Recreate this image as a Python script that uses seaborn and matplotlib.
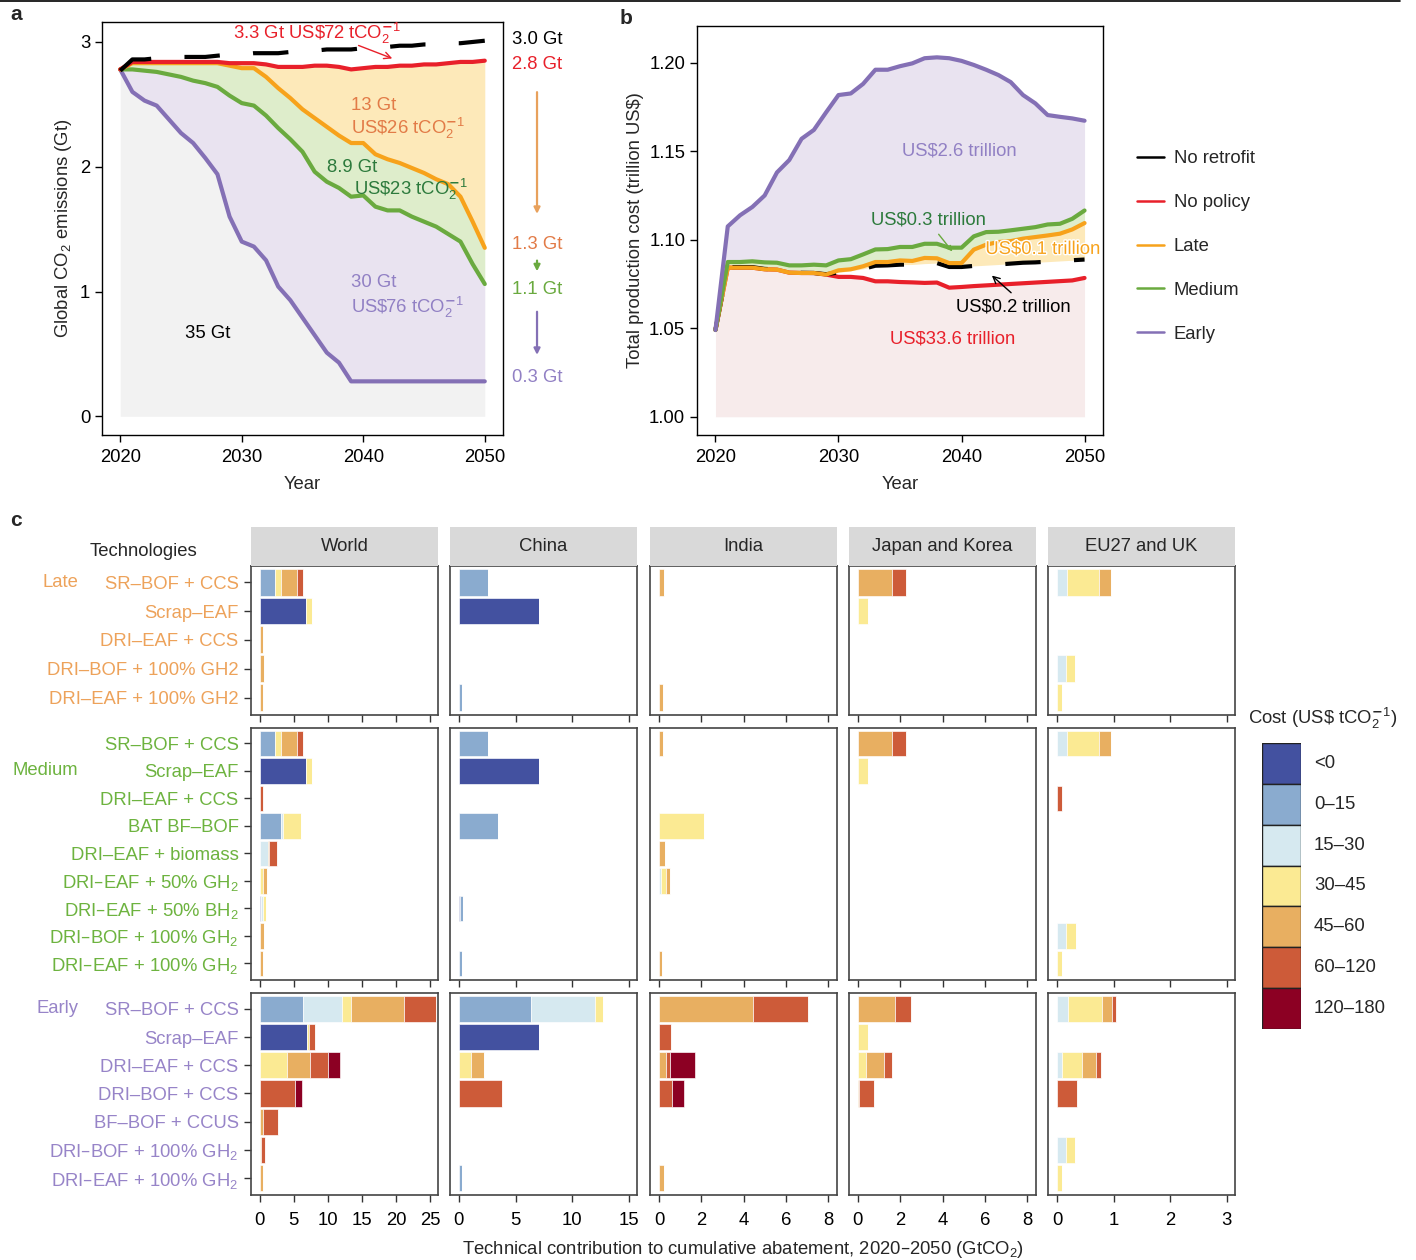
import numpy as np
import pandas as pd
import seaborn as sns
import matplotlib.pyplot as plt
from matplotlib.lines import Line2D
from matplotlib.transforms import blended_transform_factory
import matplotlib.patheffects as pe

sns.set_theme(style='ticks')
plt.rcParams['font.family'] = ['Liberation Sans', 'DejaVu Sans']
plt.rcParams['mathtext.fontset'] = 'dejavusans'
plt.rcParams['mathtext.default'] = 'regular'

# ---------------- datos panel a (emisiones, Gt) ----------------
years = list(range(2020, 2051))
a_no_retrofit = [2.77, 2.86, 2.86, 2.87, 2.87, 2.88, 2.88, 2.88, 2.89, 2.90, 2.90,
                 2.91, 2.91, 2.91, 2.92, 2.92, 2.93, 2.94, 2.94, 2.94, 2.95,
                 2.95, 2.96, 2.97, 2.97, 2.98, 2.98, 2.99, 2.99, 3.00, 3.01]
a_no_policy = [2.78, 2.84, 2.84, 2.84, 2.84, 2.84, 2.84, 2.84, 2.84, 2.83, 2.83,
               2.83, 2.82, 2.80, 2.80, 2.80, 2.81, 2.81, 2.80, 2.78, 2.79,
               2.80, 2.80, 2.81, 2.81, 2.82, 2.82, 2.83, 2.84, 2.84, 2.85]
a_late = [2.78, 2.83, 2.83, 2.83, 2.83, 2.83, 2.83, 2.83, 2.83, 2.81, 2.79,
          2.79, 2.72, 2.63, 2.55, 2.46, 2.39, 2.32, 2.25, 2.19, 2.19,
          2.10, 2.06, 2.03, 1.99, 1.95, 1.90, 1.86, 1.76, 1.56, 1.35]
a_medium = [2.78, 2.78, 2.77, 2.76, 2.74, 2.72, 2.69, 2.67, 2.64, 2.57, 2.51,
            2.49, 2.41, 2.31, 2.22, 2.12, 1.96, 1.88, 1.83, 1.76, 1.77,
            1.68, 1.65, 1.65, 1.60, 1.56, 1.52, 1.46, 1.40, 1.22, 1.06]
a_early = [2.78, 2.60, 2.53, 2.49, 2.38, 2.27, 2.19, 2.07, 1.94, 1.60, 1.40,
           1.36, 1.25, 1.04, 0.93, 0.79, 0.65, 0.51, 0.43, 0.28, 0.28,
           0.28, 0.28, 0.28, 0.28, 0.28, 0.28, 0.28, 0.28, 0.28, 0.28]

# ---------------- datos panel b (coste, billones US$) ----------------
b_no_retrofit = [1.049, 1.0845, 1.0845, 1.0845, 1.0835, 1.0832, 1.0815, 1.0813, 1.0812, 1.0805, 1.0815,
                 1.0825, 1.0835, 1.0853, 1.0855, 1.0859, 1.0860, 1.0865, 1.0868, 1.0846, 1.0846,
                 1.0852, 1.0856, 1.0860, 1.0865, 1.0870, 1.0872, 1.0876, 1.0880, 1.0884, 1.0888]
b_no_policy = [1.049, 1.0842, 1.0842, 1.0842, 1.0833, 1.0831, 1.0814, 1.0812, 1.0812, 1.0803, 1.0790,
               1.0790, 1.0784, 1.0765, 1.0765, 1.0761, 1.0759, 1.0756, 1.0758, 1.0729, 1.0733,
               1.0738, 1.0742, 1.0746, 1.0750, 1.0754, 1.0758, 1.0762, 1.0766, 1.0770, 1.0784]
b_late = [1.049, 1.0842, 1.0842, 1.0842, 1.0833, 1.0831, 1.0814, 1.0812, 1.0812, 1.0803, 1.0827,
          1.0833, 1.0850, 1.0874, 1.0874, 1.0883, 1.0880, 1.0897, 1.0895, 1.0868, 1.0868,
          1.0944, 1.0972, 1.0987, 1.0992, 1.1006, 1.1015, 1.1024, 1.1034, 1.1058, 1.1094]
b_medium = [1.049, 1.0874, 1.0874, 1.0878, 1.0872, 1.0870, 1.0855, 1.0855, 1.0859, 1.0855, 1.0883,
            1.0890, 1.0917, 1.0945, 1.0947, 1.0959, 1.0959, 1.0977, 1.0977, 1.0955, 1.0955,
            1.1019, 1.1043, 1.1045, 1.1053, 1.1062, 1.1071, 1.1086, 1.1090, 1.1118, 1.1165]
b_early = [1.049, 1.1075, 1.1138, 1.1185, 1.1250, 1.1380, 1.1450, 1.1570, 1.1620, 1.1720, 1.1817,
           1.1826, 1.1880, 1.1960, 1.1960, 1.1980, 1.1996, 1.2025, 1.2030, 1.2025, 1.2010,
           1.1987, 1.1960, 1.1930, 1.1890, 1.1817, 1.1770, 1.1704, 1.1694, 1.1685, 1.1672]

# ---------------- datos panel c (contribucion, GtCO2) ----------------
cost_bins = ['<0', '0–15', '15–30', '30–45', '45–60', '60–120', '120–180']
cost_colors = ['#4351A0', '#8AABCF', '#D6E9F0', '#FBEA93', '#E8AF61', '#CD5B39', '#8C0023']
regions = ['World', 'China', 'India', 'Japan and Korea', 'EU27 and UK']
region_xlim = [(-1.27, 26.18), (-0.79, 15.74), (-0.43, 8.43), (-0.42, 8.41), (-0.16, 3.15)]
region_ticks = [[0, 5, 10, 15, 20, 25], [0, 5, 10, 15], [0, 2, 4, 6, 8], [0, 2, 4, 6, 8], [0, 1, 2, 3]]

late_techs = ['SR–BOF + CCS', 'Scrap–EAF', 'DRI–EAF + CCS', 'DRI–BOF + 100% GH2', 'DRI–EAF + 100% GH2']
medium_techs = ['SR–BOF + CCS', 'Scrap–EAF', 'DRI–EAF + CCS', 'BAT BF–BOF', 'DRI–EAF + biomass',
                'DRI–EAF + 50% GH$_2$', 'DRI–EAF + 50% BH$_2$', 'DRI–BOF + 100% GH$_2$',
                'DRI–EAF + 100% GH$_2$']
early_techs = ['SR–BOF + CCS', 'Scrap–EAF', 'DRI–EAF + CCS', 'DRI–BOF + CCS', 'BF–BOF + CCUS',
               'DRI–BOF + 100% GH$_2$', 'DRI–EAF + 100% GH$_2$']

late_bars = [
    ('World', 0, '0–15', 2.3), ('World', 0, '30–45', 0.88), ('World', 0, '45–60', 2.25), ('World', 0, '60–120', 0.98),
    ('World', 1, '<0', 6.8), ('World', 1, '30–45', 0.88),
    ('World', 2, '45–60', 0.5), ('World', 3, '45–60', 0.6), ('World', 4, '45–60', 0.5),
    ('China', 0, '0–15', 2.55), ('China', 1, '<0', 7.1), ('China', 4, '0–15', 0.3),
    ('India', 0, '45–60', 0.22), ('India', 4, '45–60', 0.19),
    ('Japan and Korea', 0, '45–60', 1.62), ('Japan and Korea', 0, '60–120', 0.63), ('Japan and Korea', 1, '30–45', 0.5),
    ('EU27 and UK', 0, '15–30', 0.18), ('EU27 and UK', 0, '30–45', 0.56), ('EU27 and UK', 0, '45–60', 0.22),
    ('EU27 and UK', 3, '15–30', 0.15), ('EU27 and UK', 3, '30–45', 0.17), ('EU27 and UK', 4, '30–45', 0.08),
]
medium_bars = [
    ('World', 0, '0–15', 2.3), ('World', 0, '30–45', 0.88), ('World', 0, '45–60', 2.25), ('World', 0, '60–120', 0.98),
    ('World', 1, '<0', 6.8), ('World', 1, '30–45', 0.88), ('World', 2, '60–120', 0.55),
    ('World', 3, '0–15', 3.2), ('World', 3, '15–30', 0.3), ('World', 3, '30–45', 2.55),
    ('World', 4, '15–30', 1.2), ('World', 4, '45–60', 0.15), ('World', 4, '60–120', 1.2),
    ('World', 5, '30–45', 0.55), ('World', 5, '45–60', 0.5),
    ('World', 6, '<0', 0.25), ('World', 6, '15–30', 0.2), ('World', 6, '30–45', 0.55),
    ('World', 7, '45–60', 0.6), ('World', 8, '45–60', 0.5),
    ('China', 0, '0–15', 2.55), ('China', 1, '<0', 7.1), ('China', 3, '0–15', 3.45),
    ('China', 6, '<0', 0.12), ('China', 6, '0–15', 0.26), ('China', 8, '0–15', 0.3),
    ('India', 0, '45–60', 0.19), ('India', 3, '30–45', 2.14), ('India', 4, '45–60', 0.28),
    ('India', 5, '15–30', 0.1), ('India', 5, '30–45', 0.22), ('India', 5, '45–60', 0.19), ('India', 8, '45–60', 0.16),
    ('Japan and Korea', 0, '45–60', 1.62), ('Japan and Korea', 0, '60–120', 0.63), ('Japan and Korea', 1, '30–45', 0.5),
    ('EU27 and UK', 0, '15–30', 0.18), ('EU27 and UK', 0, '30–45', 0.56), ('EU27 and UK', 0, '45–60', 0.22),
    ('EU27 and UK', 2, '60–120', 0.09), ('EU27 and UK', 7, '15–30', 0.15), ('EU27 and UK', 7, '30–45', 0.18),
    ('EU27 and UK', 8, '30–45', 0.08),
]
early_bars = [
    ('World', 0, '0–15', 6.4), ('World', 0, '15–30', 5.75), ('World', 0, '30–45', 1.27), ('World', 0, '45–60', 7.75),
    ('World', 0, '60–120', 4.7), ('World', 1, '<0', 6.9), ('World', 1, '30–45', 0.3), ('World', 1, '60–120', 0.93),
    ('World', 2, '30–45', 4.0), ('World', 2, '45–60', 3.33), ('World', 2, '60–120', 2.65), ('World', 2, '120–180', 1.76),
    ('World', 3, '60–120', 5.25), ('World', 3, '120–180', 1.0), ('World', 4, '45–60', 0.5), ('World', 4, '60–120', 2.25),
    ('World', 5, '30–45', 0.2), ('World', 5, '60–120', 0.65), ('World', 6, '45–60', 0.5),
    ('China', 0, '0–15', 6.4), ('China', 0, '15–30', 5.6), ('China', 0, '30–45', 0.76), ('China', 1, '<0', 7.1),
    ('China', 2, '30–45', 1.05), ('China', 2, '45–60', 1.15), ('China', 3, '60–120', 3.85), ('China', 6, '0–15', 0.3),
    ('India', 0, '45–60', 4.44), ('India', 0, '60–120', 2.63), ('India', 1, '60–120', 0.57),
    ('India', 2, '45–60', 0.31), ('India', 2, '60–120', 0.2), ('India', 2, '120–180', 1.2),
    ('India', 3, '60–120', 0.63), ('India', 3, '120–180', 0.57), ('India', 6, '45–60', 0.22),
    ('Japan and Korea', 0, '45–60', 1.76), ('Japan and Korea', 0, '60–120', 0.75), ('Japan and Korea', 1, '30–45', 0.5),
    ('Japan and Korea', 2, '30–45', 0.39), ('Japan and Korea', 2, '45–60', 0.82), ('Japan and Korea', 2, '60–120', 0.42),
    ('Japan and Korea', 3, '45–60', 0.06), ('Japan and Korea', 3, '60–120', 0.68),
    ('EU27 and UK', 0, '15–30', 0.19), ('EU27 and UK', 0, '30–45', 0.6), ('EU27 and UK', 0, '45–60', 0.19),
    ('EU27 and UK', 0, '60–120', 0.07), ('EU27 and UK', 2, '15–30', 0.08), ('EU27 and UK', 2, '30–45', 0.36),
    ('EU27 and UK', 2, '45–60', 0.25), ('EU27 and UK', 2, '60–120', 0.08), ('EU27 and UK', 3, '60–120', 0.36),
    ('EU27 and UK', 5, '15–30', 0.15), ('EU27 and UK', 5, '30–45', 0.17), ('EU27 and UK', 6, '30–45', 0.08),
]

# colores
C_RED, C_ORANGE, C_GREEN, C_PURPLE = '#E8202A', '#F7A21B', '#6AAA3F', '#8470B5'
FS = 13.3
W, H = 1416, 1260
INV = r'$_2^{\mathbf{-}1}$'


def fx(px):
    return px / W


def fy(py):
    return 1 - py / H


fig = plt.figure(figsize=(14.16, 12.6), dpi=100)
fig.add_artist(Line2D([0, 1400 / W], [0.9992, 0.9992], color='black', lw=1.2))

# ======================= Panel a =======================
axa = fig.add_axes([fx(102), fy(435), (503 - 102) / W, (435 - 22) / H])
axa.fill_between(years, 0, a_early, color='#F2F2F2', lw=0)
axa.fill_between(years, a_early, a_medium, color='#E9E3F0', lw=0)
axa.fill_between(years, a_medium, a_late, color='#DEEDCB', lw=0)
axa.fill_between(years, a_late, a_no_policy, color='#FDE9B9', lw=0)
for vals, col in [(a_early, C_PURPLE), (a_medium, C_GREEN), (a_late, C_ORANGE), (a_no_policy, C_RED)]:
    sns.lineplot(x=years, y=vals, color=col, lw=3, ax=axa)
sns.lineplot(x=years, y=a_no_retrofit, color='black', lw=3, ax=axa)
axa.lines[-1].set_dashes([8.5, 8])
axa.set_xlim(2018.5, 2051.5)
axa.set_ylim(-0.15, 3.16)
axa.set_xticks([2020, 2030, 2040, 2050])
axa.set_yticks([0, 1, 2, 3])
axa.tick_params(labelsize=FS, length=5, width=1, colors='black')
axa.tick_params(axis='x', pad=5)
axa.set_xlabel('Year', fontsize=FS, labelpad=7)
axa.set_ylabel('Global CO$_2$ emissions (Gt)', fontsize=FS)
for sp in axa.spines.values():
    sp.set_color('black')
    sp.set_linewidth(1)

axa.text(2036.2, 3.07, r'3.3 Gt US\$72 tCO' + INV, color=C_RED, fontsize=FS, ha='center', va='center')
axa.annotate('', xy=(2042.6, 2.86), xytext=(2039.4, 2.98),
             arrowprops=dict(arrowstyle='->', color=C_RED, lw=1))
axa.text(2039.0, 2.49, '13 Gt', color='#E27B47', fontsize=FS, va='center')
axa.text(2039.0, 2.31, r'US\$26 tCO' + INV, color='#E27B47', fontsize=FS, va='center')
axa.text(2037.0, 1.99, '8.9 Gt', color='#2C7A3C', fontsize=FS, va='center')
axa.text(2039.2, 1.82, r'US\$23 tCO' + INV, color='#2C7A3C', fontsize=FS, va='center')
axa.text(2039.0, 1.07, '30 Gt', color='#9180C4', fontsize=FS, va='center')
axa.text(2039.0, 0.87, r'US\$76 tCO' + INV, color='#9180C4', fontsize=FS, va='center')
axa.text(2027.2, 0.66, '35 Gt', color='black', fontsize=FS, ha='center', va='center')

xr = 2054.3
for y, s, c in [(3.02, '3.0 Gt', 'black'), (2.82, '2.8 Gt', C_RED), (1.38, '1.3 Gt', '#E27B47'),
                (1.02, '1.1 Gt', C_GREEN), (0.31, '0.3 Gt', '#9180C4')]:
    axa.text(xr, y, s, color=c, fontsize=FS, ha='center', va='center', clip_on=False)
for y0, y1, c in [(2.62, 1.6, '#E8A15C'), (1.27, 1.14, C_GREEN), (0.86, 0.47, C_PURPLE)]:
    axa.annotate('', xy=(xr, y1), xytext=(xr, y0), annotation_clip=False,
                 arrowprops=dict(arrowstyle='-|>', color=c, lw=1.6, mutation_scale=9))

# ======================= Panel b =======================
axb = fig.add_axes([fx(697), fy(435), 406 / W, (435 - 26) / H])
axb.fill_between(years, 1.0, b_no_policy, color='#F7EBEB', lw=0)
axb.fill_between(years, b_no_retrofit, b_late, color='#FDE9B9', lw=0)
axb.fill_between(years, b_late, b_medium, color='#DEEDCB', lw=0)
axb.fill_between(years, b_medium, b_early, color='#E9E3F0', lw=0)
sns.lineplot(x=years, y=b_no_policy, color=C_RED, lw=3, ax=axb)
sns.lineplot(x=years, y=b_no_retrofit, color='black', lw=3, ax=axb)
axb.lines[-1].set_dashes([8.5, 8])
for vals, col in [(b_late, C_ORANGE), (b_medium, C_GREEN), (b_early, C_PURPLE)]:
    sns.lineplot(x=years, y=vals, color=col, lw=3, ax=axb)
axb.set_xlim(2018.5, 2051.5)
axb.set_ylim(0.9897, 1.2207)
axb.set_xticks([2020, 2030, 2040, 2050])
axb.set_yticks([1.00, 1.05, 1.10, 1.15, 1.20])
axb.set_yticklabels(['1.00', '1.05', '1.10', '1.15', '1.20'])
axb.tick_params(labelsize=FS, length=5, width=1, colors='black')
axb.tick_params(axis='x', pad=5)
axb.set_xlabel('Year', fontsize=FS, labelpad=7)
axb.set_ylabel('Total production cost (trillion US$)', fontsize=FS)
for sp in axb.spines.values():
    sp.set_color('black')
    sp.set_linewidth(1)

axb.text(2039.8, 1.150, 'US$2.6 trillion', color='#9180C4', fontsize=FS, ha='center', va='center')
axb.text(2037.3, 1.111, 'US$0.3 trillion', color='#2C7A3C', fontsize=FS, ha='center', va='center')
axb.annotate('', xy=(2039.4, 1.0921), xytext=(2038.0, 1.1043),
             arrowprops=dict(arrowstyle='-|>', color=C_GREEN, lw=1, mutation_scale=8))
axb.text(2046.6, 1.0945, 'US$0.1 trillion', color=C_ORANGE, fontsize=FS, ha='center', va='center',
         path_effects=[pe.withStroke(linewidth=2, foreground='white')])
axb.text(2044.2, 1.062, 'US$0.2 trillion', color='black', fontsize=FS, ha='center', va='center')
axb.annotate('', xy=(2042.3, 1.0808), xytext=(2044.2, 1.069),
             arrowprops=dict(arrowstyle='->', color='black', lw=1))
axb.text(2039.3, 1.0442, 'US$33.6 trillion', color=C_RED, fontsize=FS, ha='center', va='center')

leg_handles = [Line2D([], [], color=c, lw=1.8) for c in ['black', C_RED, C_ORANGE, C_GREEN, C_PURPLE]]
fig.legend(handles=leg_handles, labels=['No retrofit', 'No policy', 'Late', 'Medium', 'Early'],
           loc='center left', bbox_to_anchor=(fx(1137), fy(246.5)), frameon=False, fontsize=FS,
           handlelength=1.45, handletextpad=0.55, labelspacing=1.45, borderpad=0, borderaxespad=0)

# ======================= Panel c =======================
col_left = [251, 450, 650, 849, 1048]
col_w = 187
row_spec = [(566, 715, late_techs, late_bars, '#EDA25A', 'Late', 0),
            (728, 980, medium_techs, medium_bars, '#6DB33F', 'Medium', 1),
            (993, 1195, early_techs, early_bars, '#9784C8', 'Early', 0)]

for r, (top, bot, techs, bars, tcol, scen, scen_row) in enumerate(row_spec):
    df = pd.DataFrame(bars, columns=['region', 'tech', 'cost', 'value'])
    n = len(techs)
    for c, reg in enumerate(regions):
        ax = fig.add_axes([fx(col_left[c]), fy(bot), col_w / W, (bot - top) / H])
        sub = df[df['region'] == reg]
        table = sub.pivot_table(index='tech', columns='cost', values='value', aggfunc='sum')
        table = table.reindex(index=range(n), columns=cost_bins).fillna(0)
        left = np.zeros(n)
        for b, col in zip(cost_bins, cost_colors):
            vals = table[b].values
            ax.barh(range(n), vals, left=left, height=0.93, color=col, edgecolor='white', linewidth=0.45)
            left = left + vals
        ax.set_ylim(n - 0.4, -0.56)
        ax.set_xlim(*region_xlim[c])
        ax.set_xticks(region_ticks[c])
        ax.tick_params(axis='x', length=5, width=1, colors='#333333', labelsize=FS, labelcolor='black', pad=7)
        if r < 2:
            ax.set_xticklabels([])
        if c == 0:
            ax.set_yticks(range(n))
            ax.set_yticklabels(techs, color=tcol, fontsize=FS)
            ax.tick_params(axis='y', length=5, width=1, colors='#333333', labelcolor=tcol, pad=4)
            trans = blended_transform_factory(fig.transFigure, ax.transData)
            ax.text(fx(78), scen_row, scen, color=tcol, fontsize=FS, ha='right', va='center',
                    transform=trans)
        else:
            ax.set_yticks([])
        for sp in ax.spines.values():
            sp.set_color('#444444')
            sp.set_linewidth(1.2)
        if r == 0:
            sa = fig.add_axes([fx(col_left[c]), fy(top), col_w / W, 39 / H])
            sa.set_facecolor('#D9D9D9')
            sa.set_xticks([])
            sa.set_yticks([])
            for sp in sa.spines.values():
                sp.set_visible(False)
            sa.text(0.5, 0.5, reg, ha='center', va='center', fontsize=FS, transform=sa.transAxes)

fig.text(fx(143), fy(552), 'Technologies', ha='center', va='center', fontsize=FS)
fig.text(fx(743), fy(1249), 'Technical contribution to cumulative abatement, 2020–2050 (GtCO$_2$)',
         ha='center', va='center', fontsize=FS)

# leyenda de costes
axl = fig.add_axes([fx(1262), fy(1029), 39 / W, (1029 - 743) / H])
axl.barh(range(len(cost_bins)), [1] * len(cost_bins), height=1, color=cost_colors,
         edgecolor='#222222', linewidth=1)
axl.set_ylim(len(cost_bins) - 0.5, -0.5)
axl.set_xlim(0, 1)
axl.axis('off')
for i, lab in enumerate(cost_bins):
    axl.text(1.33, i, lab, fontsize=FS, va='center', ha='left', transform=axl.get_yaxis_transform())
fig.text(fx(1248), fy(718), r'Cost (US\$ tCO' + INV + ')', fontsize=FS, ha='left', va='center')

# letras de panel
fig.text(fx(10), fy(14), 'a', fontsize=15, fontweight='bold', va='center')
fig.text(fx(620), fy(19), 'b', fontsize=15, fontweight='bold', va='center')
fig.text(fx(10), fy(520), 'c', fontsize=15, fontweight='bold', va='center')

fig.savefig('out.png', dpi=100)
